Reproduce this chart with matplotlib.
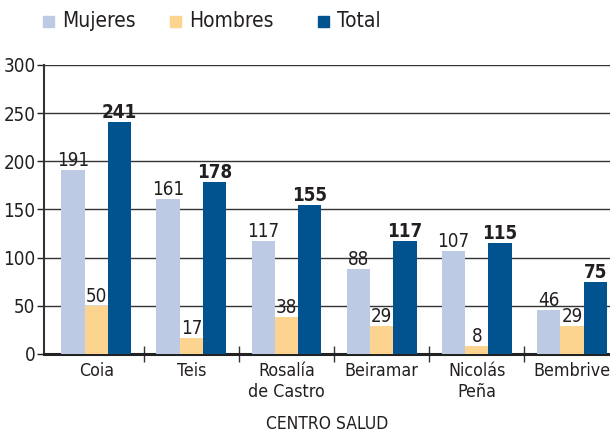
import numpy as np
import matplotlib
matplotlib.use('Agg')
import matplotlib.pyplot as plt
from matplotlib.patches import Rectangle

plt.rcParams['font.family'] = ['DejaVu Sans']
plt.rcParams['font.stretch'] = 'condensed'

# data
centros = ['Coia', 'Teis', 'Rosalía\nde Castro', 'Beiramar', 'Nicolás\nPeña', 'Bembrive']
mujeres = [191, 161, 117, 88, 107, 46]
hombres = [50, 17, 38, 29, 8, 29]
total = [241, 178, 155, 117, 115, 75]
series_names = ['Mujeres', 'Hombres', 'Total']

c_muj = '#BCCAE3'
c_hom = '#FDD48F'
c_tot = '#00538F'
txt = '#231F20'
fs = 13.5

fig = plt.figure(figsize=(6.1, 4.38), dpi=100)
ax = fig.add_axes([0.072, 0.192, 0.928, 0.66])

x = np.arange(len(centros))
w = 0.245
b1 = ax.bar(x - w, mujeres, w, color=c_muj, zorder=3)
b2 = ax.bar(x, hombres, w, color=c_hom, zorder=3)
b3 = ax.bar(x + w, total, w, color=c_tot, zorder=3)

ax.bar_label(b1, padding=0, fontsize=fs, color=txt)
ax.bar_label(b2, padding=0, fontsize=fs, color=txt)
ax.bar_label(b3, padding=0, fontsize=fs, color=txt, fontweight='bold')

ax.set_ylim(0, 300)
ax.set_xlim(-0.55, 5.4)
ax.set_yticks(np.arange(0, 301, 50))
ax.tick_params(axis='y', labelsize=fs, colors=txt, length=5, width=1, pad=1)
ax.yaxis.grid(True, color='#333333', linewidth=1, zorder=0)
ax.set_axisbelow(True)

# group labels on major ticks, dividers as minor ticks
ax.set_xticks(x, labels=centros, fontsize=12.8, color=txt)
ax.tick_params(axis='x', length=0, pad=6)
ax.set_xticks(np.arange(0.5, 5.5, 1), minor=True)
ax.tick_params(axis='x', which='minor', direction='inout', length=12, width=1, color='#333333')

for s in ['top', 'right']:
    ax.spines[s].set_visible(False)
ax.spines['left'].set_linewidth(1.5)
ax.spines['left'].set_color('#333333')
ax.spines['bottom'].set_linewidth(2.2)
ax.spines['bottom'].set_color('#222222')

ax.set_xlabel('CENTRO SALUD', fontsize=12.5, color=txt, labelpad=10)

# legend drawn at top
leg_x = [43, 170, 318]
for name, col, lx in zip(series_names, [c_muj, c_hom, c_tot], leg_x):
    fig.patches.append(Rectangle((lx / 610, 1 - 27 / 438), 11 / 610, 11 / 438,
                                 transform=fig.transFigure, color=col))
    fig.text((lx + 19) / 610, 1 - 21 / 438, name, fontsize=15, color=txt, va='center')

fig.savefig('out.png', dpi=100)
